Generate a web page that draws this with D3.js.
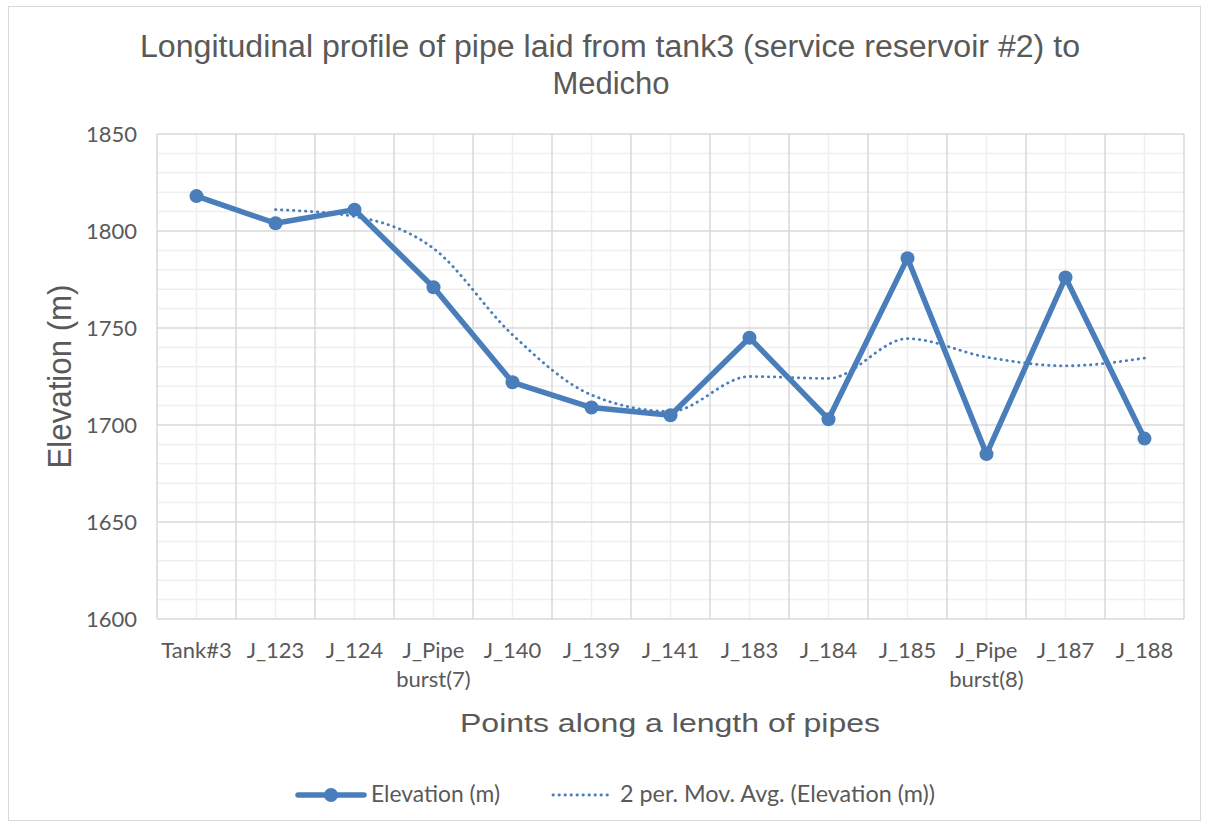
<!DOCTYPE html>
<html>
<head>
<meta charset="utf-8">
<script src="https://cdn.jsdelivr.net/npm/d3@7"></script>
<style>
  body { margin: 0; background: #fff; }
  text { fill: #595959; }
</style>
</head>
<body>
<script>

var width  = 1205;
var height = 827;

// data
var categories = [ 'Tank#3', 'J_123', 'J_124', 'J_Pipe burst(7)', 'J_140', 'J_139', 'J_141',
                   'J_183', 'J_184', 'J_185', 'J_Pipe burst(8)', 'J_187', 'J_188' ];

var elevation  = [ 1818, 1804, 1811, 1771, 1722, 1709, 1705,
                   1745, 1703, 1786, 1685, 1776, 1693 ];

// 2 period moving average trendline as drawn (first point has none)
var movAvg     = [ null, 1811, 1807.5, 1791, 1746.5, 1715.5, 1707,
                   1725, 1724, 1744.5, 1735, 1730.5, 1734.5 ];

var yTicks     = [ 1600, 1650, 1700, 1750, 1800, 1850 ];

var blue = '#4a7ebb';
var tickFont = 'Lato, sans-serif';

var margin = { left: 157, top: 134, right: 1184, bottom: 619 };

var svg = d3.select('body')
            .append('svg')
            .attr('width', width)
            .attr('height', height);

svg.append('rect')
   .attr('x', 8.5).attr('y', 6.5)
   .attr('width', 1192).attr('height', 814)
   .attr('fill', '#fff')
   .attr('stroke', '#d9d9d9');

var x = d3.scaleBand()
          .domain(categories)
          .range([margin.left, margin.right]);

var y = d3.scaleLinear()
          .domain([1600, 1850])
          .range([margin.bottom, margin.top]);

var cx = function(c) { return x(c) + x.bandwidth() / 2; };

// minor grid
var g = svg.append('g');
g.selectAll('.hmin')
 .data(d3.range(1600, 1851, 10).filter(function(v){ return v % 50 !== 0; }))
 .enter().append('line')
 .attr('x1', margin.left).attr('x2', margin.right)
 .attr('y1', function(d){ return y(d); }).attr('y2', function(d){ return y(d); })
 .attr('stroke', '#efefef').attr('stroke-width', 1.5);

g.selectAll('.vmin')
 .data(categories)
 .enter().append('line')
 .attr('x1', cx).attr('x2', cx)
 .attr('y1', margin.top).attr('y2', margin.bottom)
 .attr('stroke', '#efefef').attr('stroke-width', 1.5);

// major grid
g.selectAll('.hmaj')
 .data(yTicks)
 .enter().append('line')
 .attr('x1', margin.left).attr('x2', margin.right)
 .attr('y1', function(d){ return y(d); }).attr('y2', function(d){ return y(d); })
 .attr('stroke', '#d9d9d9').attr('stroke-width', 1.5);

g.selectAll('.vmaj')
 .data(categories.concat(['end']))
 .enter().append('line')
 .attr('x1', function(d, i){ return margin.left + i * x.step(); })
 .attr('x2', function(d, i){ return margin.left + i * x.step(); })
 .attr('y1', margin.top).attr('y2', margin.bottom)
 .attr('stroke', '#d9d9d9').attr('stroke-width', 1.5);

// y tick labels
svg.selectAll('.ytick')
   .data(yTicks)
   .enter().append('text')
   .attr('x', 137)
   .attr('y', function(d){ return y(d) + 8; })
   .attr('text-anchor', 'end')
   .attr('font-family', tickFont)
   .attr('font-size', '22px')
   .text(function(d){ return d; });

// x tick labels (wrapped)
var xt = svg.selectAll('.xtick')
            .data(categories)
            .enter().append('text')
            .attr('text-anchor', 'middle')
            .attr('font-family', tickFont)
            .attr('font-size', '22px');

xt.each(function(d){
  var parts = d.indexOf('burst') > 0 ? ['J_Pipe', d.replace('J_Pipe ', '')] : [d];
  var t = d3.select(this);
  parts.forEach(function(p, i){
    t.append('tspan')
     .attr('x', cx(d))
     .attr('y', 658 + i * 29)
     .text(p);
  });
});

// title
svg.append('text')
   .attr('x', 610).attr('y', 57)
   .attr('text-anchor', 'middle')
   .attr('font-family', 'Liberation Sans, sans-serif')
   .attr('font-size', '31px')
   .attr('textLength', 940)
   .attr('lengthAdjust', 'spacingAndGlyphs')
   .text('Longitudinal profile of pipe laid from tank3 (service reservoir #2) to');

svg.append('text')
   .attr('x', 611).attr('y', 94)
   .attr('text-anchor', 'middle')
   .attr('font-family', 'Liberation Sans, sans-serif')
   .attr('font-size', '31px')
   .text('Medicho');

// axis titles
svg.append('text')
   .attr('transform', 'translate(71,' + ((margin.top + margin.bottom) / 2) + ') rotate(-90)')
   .attr('text-anchor', 'middle')
   .attr('font-family', 'Liberation Sans, sans-serif')
   .attr('font-size', '34px')
   .attr('textLength', 184)
   .attr('lengthAdjust', 'spacingAndGlyphs')
   .text('Elevation (m)');

svg.append('text')
   .attr('x', 460).attr('y', 732)
   .attr('text-anchor', 'start')
   .attr('font-family', 'Liberation Sans, sans-serif')
   .attr('font-size', '25px')
   .attr('textLength', 420)
   .attr('lengthAdjust', 'spacingAndGlyphs')
   .text('Points along a length of pipes');

// moving average
var avgLine = d3.line()
                .defined(function(d){ return d[1] !== null; })
                .x(function(d){ return cx(d[0]); })
                .y(function(d){ return y(d[1]); })
                .curve(d3.curveMonotoneX);

svg.append('path')
   .datum(categories.map(function(c, i){ return [c, movAvg[i]]; }))
   .attr('d', avgLine)
   .attr('fill', 'none')
   .attr('stroke', blue)
   .attr('stroke-width', 2.8)
   .attr('stroke-dasharray', '0.4,5.6')
   .attr('stroke-linecap', 'round');

// elevation
var line = d3.line()
             .x(function(d){ return cx(d[0]); })
             .y(function(d){ return y(d[1]); });

var pts = categories.map(function(c, i){ return [c, elevation[i]]; });

svg.append('path')
   .datum(pts)
   .attr('d', line)
   .attr('fill', 'none')
   .attr('stroke', blue)
   .attr('stroke-width', 5.5)
   .attr('stroke-linejoin', 'round');

svg.selectAll('.dot')
   .data(pts)
   .enter().append('circle')
   .attr('cx', function(d){ return cx(d[0]); })
   .attr('cy', function(d){ return y(d[1]); })
   .attr('r', 7)
   .attr('fill', blue);

// legend
var lg = svg.append('g');
lg.append('line')
  .attr('x1', 298).attr('x2', 364).attr('y1', 795).attr('y2', 795)
  .attr('stroke', blue).attr('stroke-width', 5.5).attr('stroke-linecap', 'round');
lg.append('circle').attr('cx', 331).attr('cy', 795).attr('r', 7).attr('fill', blue);
lg.append('text')
  .attr('x', 371).attr('y', 802)
  .attr('font-family', tickFont).attr('font-size', '22.5px')
  .attr('textLength', 129).attr('lengthAdjust', 'spacingAndGlyphs')
  .text('Elevation (m)');

lg.append('line')
  .attr('x1', 553).attr('x2', 612).attr('y1', 795).attr('y2', 795)
  .attr('stroke', blue).attr('stroke-width', 2.8)
  .attr('stroke-dasharray', '0.4,5.6').attr('stroke-linecap', 'round');
lg.append('text')
  .attr('x', 620).attr('y', 802)
  .attr('font-family', tickFont).attr('font-size', '22.5px')
  .attr('textLength', 315).attr('lengthAdjust', 'spacingAndGlyphs')
  .text('2 per. Mov. Avg. (Elevation (m))');

</script>
</body>
</html>
